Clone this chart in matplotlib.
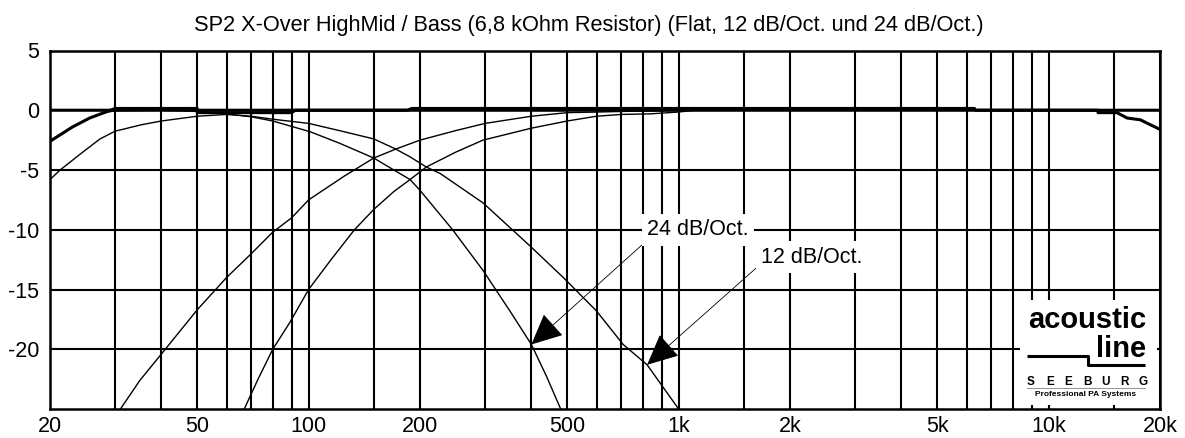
import matplotlib
matplotlib.use("Agg")
import matplotlib.pyplot as plt
from matplotlib.patches import Rectangle
from matplotlib.ticker import FixedLocator, NullFormatter

plt.rcParams['font.family'] = ['Liberation Sans', 'DejaVu Sans']

# --- data ---
tick_freqs = [20, 50, 100, 200, 500, 1000, 2000, 5000, 10000, 20000]
tick_labels = ["20", "50", "100", "200", "500", "1k", "2k", "5k", "10k", "20k"]
grid_freqs = [30, 40, 50, 60, 70, 80, 90, 100, 150, 200,
              300, 400, 500, 600, 700, 800, 900, 1000, 1500, 2000,
              3000, 4000, 5000, 6000, 7000, 8000, 9000, 10000, 15000]
db_ticks = [5, 0, -5, -10, -15, -20]

# flat responses (thick)
bass_flat_f = [20, 23, 25.6, 28, 30, 50, 50, 90, 92, 20000]
bass_flat_db = [-2.6, -1.4, -0.65, -0.2, 0.15, 0.15, -0.2, -0.2, 0, 0]
mid_flat_f = [20, 185, 190, 6300, 6350, 13600, 13600, 15300, 16300, 17700, 18800, 20000]
mid_flat_db = [0, 0, 0.15, 0.15, 0, 0, -0.2, -0.2, -0.65, -0.8, -1.2, -1.6]

# bass low pass 24 dB/Oct.
lp24_f = [20, 23, 25.6, 28, 30, 40, 50, 60, 70, 80, 101, 121, 150, 170, 188, 200,
          245, 296, 350, 400, 440, 480]
lp24_db = [-2.6, -1.4, -0.65, -0.2, -0.05, 0, -0.1, -0.3, -0.55, -0.9, -1.8, -2.75, -4.0,
           -5.0, -5.8, -6.7, -10.0, -13.4, -16.8, -19.6, -22.3, -25.0]
# bass low pass 12 dB/Oct.
lp12_f = [20, 21.3, 24.3, 27.3, 30, 35.5, 40, 50, 60, 70, 80, 100, 121, 150, 172, 188,
          208, 227, 296, 398, 488, 600, 708, 822, 1000]
lp12_db = [-5.8, -5.0, -3.6, -2.4, -1.75, -1.2, -0.9, -0.5, -0.35, -0.5, -0.75, -1.1,
           -1.7, -2.4, -3.25, -3.9, -4.75, -5.3, -7.75, -11.4, -14.0, -16.8, -19.6, -21.3, -25.0]
# high-mid high pass 12 dB/Oct.
hp12_f = [31, 35, 40, 50, 60, 70, 80, 90, 100, 125, 150, 172, 200, 250, 300, 400, 500,
          600, 700, 1100]
hp12_db = [-25.0, -22.6, -20.4, -16.7, -14.0, -12.0, -10.2, -9.0, -7.5, -5.5, -4.0,
           -3.25, -2.5, -1.7, -1.1, -0.5, -0.2, -0.15, -0.1, 0]
# high-mid high pass 24 dB/Oct.
hp24_f = [67, 73, 80, 89, 100, 115, 133, 150, 170, 188, 208, 250, 296, 400, 500, 600,
          700, 840, 1000, 1100]
hp24_db = [-25.0, -22.5, -20.0, -17.75, -15.0, -12.5, -10.0, -8.3, -6.8, -5.8, -4.75,
           -3.5, -2.5, -1.5, -0.9, -0.5, -0.35, -0.3, -0.15, 0]

W, H = 1185, 438
fig = plt.figure(figsize=(W / 100, H / 100), dpi=100)
ax = fig.add_axes([50 / W, 1 - 409 / H, 1110 / W, 358.5 / H])
ax.set_xscale('log')
ax.set_xlim(20, 20000)
ax.set_ylim(-25, 5)

ax.set_xticks(tick_freqs)
ax.set_xticklabels(tick_labels)
ax.xaxis.set_minor_locator(FixedLocator(grid_freqs))
ax.xaxis.set_minor_formatter(NullFormatter())
ax.set_yticks(db_ticks)
ax.set_yticklabels([str(v) for v in db_ticks])
ax.tick_params(axis='both', which='both', length=0, labelsize=15.5)
ax.tick_params(axis='x', pad=5)
ax.tick_params(axis='y', pad=8)
ax.grid(True, which='both', color='black', linewidth=1.5)
for s in ax.spines.values():
    s.set_linewidth(1.8)

ax.plot(bass_flat_f, bass_flat_db, color='black', lw=2.2, zorder=3)
ax.plot(mid_flat_f, mid_flat_db, color='black', lw=2.2, zorder=3)
for f, d in [(lp24_f, lp24_db), (lp12_f, lp12_db), (hp12_f, hp12_db), (hp24_f, hp24_db)]:
    ax.plot(f, d, color='black', lw=1.0, zorder=3)

fig.text(589 / W, 1 - 25 / H, "SP2 X-Over HighMid / Bass (6,8 kOhm Resistor) (Flat, 12 dB/Oct. und 24 dB/Oct.)",
         ha='center', va='center', fontsize=15.7)

box = dict(boxstyle='square,pad=0.25', fc='white', ec='none')
ax.annotate("24 dB/Oct.", xy=(400, -19.6), xytext=(1128, -10.0), ha='center', va='center',
            fontsize=15.5, bbox=box, zorder=5,
            arrowprops=dict(arrowstyle='-|>,head_length=1.0,head_width=0.47', mutation_scale=20,
                            color='black', lw=0.6, relpos=(0, 0), shrinkA=0, shrinkB=0))
ax.annotate("12 dB/Oct.", xy=(822, -21.3), xytext=(2293, -12.3), ha='center', va='center',
            fontsize=15.5, bbox=box, zorder=5,
            arrowprops=dict(arrowstyle='-|>,head_length=1.0,head_width=0.47', mutation_scale=20,
                            color='black', lw=0.6, relpos=(0, 0.2), shrinkA=0, shrinkB=0))


# logo (pixel positions converted to axes fraction)
def px(x, y):
    return (x - 50) / 1110, (409 - y) / 358.5


x0, y0 = px(1020, 405)
x1, y1 = px(1157, 300)
ax.add_patch(Rectangle((x0, y0), x1 - x0, y1 - y0, transform=ax.transAxes,
                       fc='white', ec='none', zorder=4))
ax.text(*px(1146, 328), "acoustic", transform=ax.transAxes, ha='right', va='baseline',
        fontsize=21, fontweight='bold', zorder=6)
ax.text(*px(1146, 357), "line", transform=ax.transAxes, ha='right', va='baseline',
        fontsize=21, fontweight='bold', zorder=6)
step_x = [1027, 1088, 1088, 1145]
step_y = [356, 356, 365, 365]
pts = [px(a, b) for a, b in zip(step_x, step_y)]
ax.plot([p[0] for p in pts], [p[1] for p in pts], color='black', lw=2.2,
        transform=ax.transAxes, zorder=6, solid_capstyle='butt')
for i, ch in enumerate("SEEBURG"):
    ax.text(*px(1031 + i * 18.7, 382), ch, transform=ax.transAxes, ha='center', va='center',
            fontsize=8.5, fontweight='bold', zorder=6)
ua, ub = px(1027, 388), px(1145, 388)
ax.plot([ua[0], ub[0]], [ua[1], ub[1]], color='gray', lw=0.6, transform=ax.transAxes, zorder=6)
ax.text(*px(1086, 394.5), "Professional PA Systems", transform=ax.transAxes, ha='center',
        va='center', fontsize=6, fontweight='bold', zorder=6)

fig.savefig("out.png", dpi=100)
